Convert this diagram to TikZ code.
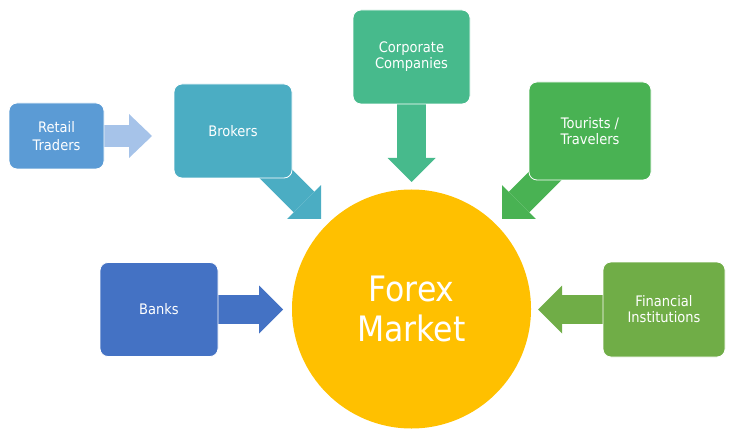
\documentclass[tikz,border=0pt]{standalone}
\usepackage{fontspec}
\setmainfont{DejaVu Sans}[FakeStretch=0.9]
\usepackage{tikz}
\usetikzlibrary{arrows.meta,backgrounds}
\definecolor{retailblue}{HTML}{5B9BD5}
\definecolor{retaillight}{HTML}{A6C3E9}
\definecolor{brokerteal}{HTML}{4BADC3}
\definecolor{corpgreen}{HTML}{47BA8C}
\definecolor{touristgreen}{HTML}{49B253}
\definecolor{bankblue}{HTML}{4472C4}
\definecolor{finegreen}{HTML}{70AD47}
\definecolor{forexgold}{HTML}{FFC000}

\begin{document}
\begin{tikzpicture}[
x=1pt, y=-1pt,
font=\normalfont,
player/.style={rectangle, rounded corners=8pt, draw=white, line width=0.8pt,
  fill=#1, text=white, align=center, minimum width=118pt, minimum height=94pt,
  font=\fontsize{14.5}{16}\selectfont},
flow/.style={draw=#1, line width=29pt,
  -{Triangle[length=24pt,width=48pt,line width=0pt]}},
flowsmall/.style={draw=#1, line width=22pt,
  -{Triangle[length=23pt,width=44pt,line width=0pt]}}]
    \useasboundingbox (0,0) rectangle (735,438);

    % Market in the middle
    \node[circle, fill=forexgold, minimum size=239pt, text=white, align=center,
        font=\fontsize{35}{40}\selectfont] (forex) at (411.5,309) {Forex\\Market};

    % Participants
    \node[player=retailblue, minimum width=95pt, minimum height=66pt,
        font=\fontsize{14.5}{18.5}\selectfont] (retail) at (56.5,136) {Retail\\Traders};
    \node[player=brokerteal] (brokers) at (233,131) {Brokers};
    \node[player=corpgreen, minimum width=117pt] (corporate) at (411.5,57) {Corporate\\Companies};
    \node[player=touristgreen, minimum width=122pt, minimum height=98pt] (tourists) at (590,131) {Tourists /\\Travelers};
    \node[player=bankblue] (banks) at (159,309.5) {Banks};
    \node[player=finegreen, minimum width=122pt, minimum height=95pt] (financial) at (664,309.5) {Financial\\Institutions};

    \coordinate (retailTip) at (152,136);
    \coordinate (brokersTip) at (321,219);
    \coordinate (corporateTip) at (411.5,182);
    \coordinate (touristsTip) at (502,219);
    \coordinate (banksTip) at (283,309.5);
    \coordinate (financialTip) at (538,309.5);

    % Arrows behind the boxes
    \begin{scope}[on background layer]
    \draw[flowsmall=retaillight] (retail.center) -- (retailTip);
    \draw[flow=brokerteal] (brokers.center) -- (brokersTip);
    \draw[flow=corpgreen] (corporate.center) -- (corporateTip);
    \draw[flow=touristgreen] (tourists.center) -- (touristsTip);
    \draw[flow=bankblue] (banks.center) -- (banksTip);
    \draw[flow=finegreen] (financial.center) -- (financialTip);
    \end{scope}

\end{tikzpicture}
\end{document}
